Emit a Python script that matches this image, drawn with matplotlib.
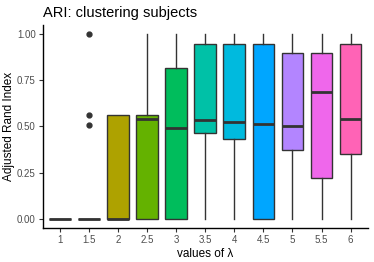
import matplotlib.pyplot as plt

plt.rcParams['font.family'] = ['Liberation Sans', 'DejaVu Sans']

lambdas = ['1', '1.5', '2', '2.5', '3', '3.5', '4', '4.5', '5', '5.5', '6']
whislo = [0, 0, 0, 0, 0, 0, 0, 0, 0, 0, 0]
q1 = [0, 0, 0, 0, 0, 0.463, 0.43, 0, 0.371, 0.222, 0.353]
med = [0, 0, 0, 0.54, 0.49, 0.537, 0.526, 0.512, 0.503, 0.686, 0.542]
q3 = [0, 0, 0.563, 0.563, 0.818, 0.948, 0.948, 0.948, 0.90, 0.896, 0.948]
whishi = [0, 0, 0.563, 1.0, 1.0, 1.0, 1.0, 1.0, 1.0, 1.0, 1.0]
fliers = [[], [1.0, 0.563, 0.505], [], [], [], [], [], [], [], [], []]
colors = ['#F8766D', '#DB8E00', '#AEA200', '#64B200', '#00BD5C', '#00C1A7',
          '#00BADE', '#00A6FF', '#B385FF', '#EF67EB', '#FF63B6']

stats = []
for i in range(len(lambdas)):
    stats.append({'whislo': whislo[i], 'q1': q1[i], 'med': med[i], 'q3': q3[i],
                  'whishi': whishi[i], 'fliers': fliers[i]})

fig = plt.figure(figsize=(3.74, 2.62), dpi=100)
ax = fig.add_axes([0.114, 0.130, 0.870, 0.775])

pos = list(range(1, len(lambdas) + 1))
bp = ax.bxp(stats, positions=pos, widths=0.75, patch_artist=True, showcaps=False,
            boxprops=dict(edgecolor='#333333', linewidth=1.0),
            medianprops=dict(color='#333333', linewidth=2.0),
            whiskerprops=dict(color='#333333', linewidth=1.0),
            flierprops=dict(marker='o', markerfacecolor='#333333', markeredgecolor='#333333',
                            markersize=3.5))
for patch, c in zip(bp['boxes'], colors):
    patch.set_facecolor(c)

ax.set_xlim(0.4, 11.6)
ax.set_ylim(-0.05, 1.05)
ax.set_xticks(pos)
ax.set_xticklabels(lambdas)
ax.set_yticks([0, 0.25, 0.5, 0.75, 1.0])
ax.set_yticklabels(['0.00', '0.25', '0.50', '0.75', '1.00'])
ax.tick_params(labelsize=7, labelcolor='#4D4D4D', color='#333333', length=3, width=0.8, pad=2)
for s in ['top', 'right']:
    ax.spines[s].set_visible(False)
for s in ['left', 'bottom']:
    ax.spines[s].set_linewidth(1.0)

ax.set_xlabel('values of λ', fontsize=8.5)
ax.xaxis.set_label_coords(0.5, -0.1)
ax.set_ylabel('Adjusted Rand Index', fontsize=8.5)
ax.yaxis.set_label_coords(-0.085, 0.5)
ax.set_title('ARI: clustering subjects', fontsize=10.5, loc='left', pad=6)

fig.savefig('out.png', dpi=100)
